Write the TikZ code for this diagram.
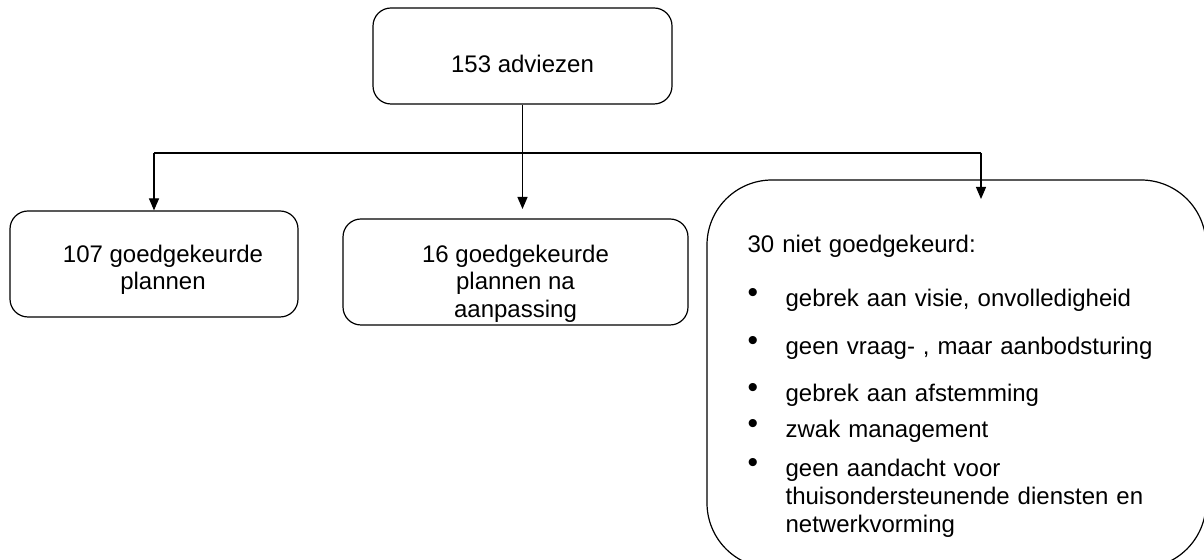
\documentclass[tikz,border=0pt]{standalone}
\usepackage{fontspec}
\setmainfont{Liberation Sans}
\usetikzlibrary{arrows.meta}
\newcommand{\lift}[1]{\rule{0pt}{#1}}
\newcommand{\itm}{\makebox[19pt][l]{\raisebox{2.4pt}{\scalebox{1.25}{\textbullet}}}}
\begin{document}
\begin{tikzpicture}[x=0.5pt, y=-0.5pt, line width=0.6pt,
	font=\fontsize{12}{13.8}\selectfont,
	box/.style={draw, rounded corners=9pt, align=center, inner sep=0pt},
	arr/.style={-{Triangle[length=6pt, width=5pt]}}]
			\useasboundingbox (0,0) rectangle (1204,560);
			\clip (0,0) rectangle (1204,560);
			\node[box, minimum width=149.5pt, minimum height=48pt] at (522.5,56) (adv) {\lift{17pt}153 adviezen};
			\node[box, minimum width=144pt, minimum height=53pt] at (154,264) (lft) {\lift{14.3pt}\hspace*{9pt}107 goedgekeurde\\\hspace*{9pt}plannen};
			\node[box, minimum width=172.5pt, minimum height=53pt] at (515.5,272) (mid) {\lift{20.1pt}16 goedgekeurde\\plannen na\\aanpassing};
			\node[box, rounded corners=32.5pt, minimum width=249.5pt, minimum height=194pt] at (956.5,374) (rej) {};
			\node[anchor=base west, text width=220pt, align=left, inner sep=0pt] at (747,253) (why) {30 niet goedgekeurd:\\[13.2pt]
				\itm gebrek aan visie, onvolledigheid\\[10.2pt]
				\itm geen vraag- , maar aanbodsturing\\[9.7pt]
				\itm gebrek aan afstemming\\[4.2pt]
				\itm zwak management\\[5.7pt]
				\itm geen aandacht voor\\
				\hspace*{19pt}thuisondersteunende diensten en\\
				\hspace*{19pt}netwerkvorming};
			\coordinate (bus) at (0,153);
			\coordinate (t2) at (522.5,209);
			\coordinate (t3) at (981,199);
			\draw[arr] (adv.south) -- (t2);
			\draw (lft.north |- bus) -- (t3 |- bus);
			\draw[arr] (lft.north |- bus) -- (lft.north);
			\draw[arr] (t3 |- bus) -- (t3);
		\end{tikzpicture}
\end{document}
